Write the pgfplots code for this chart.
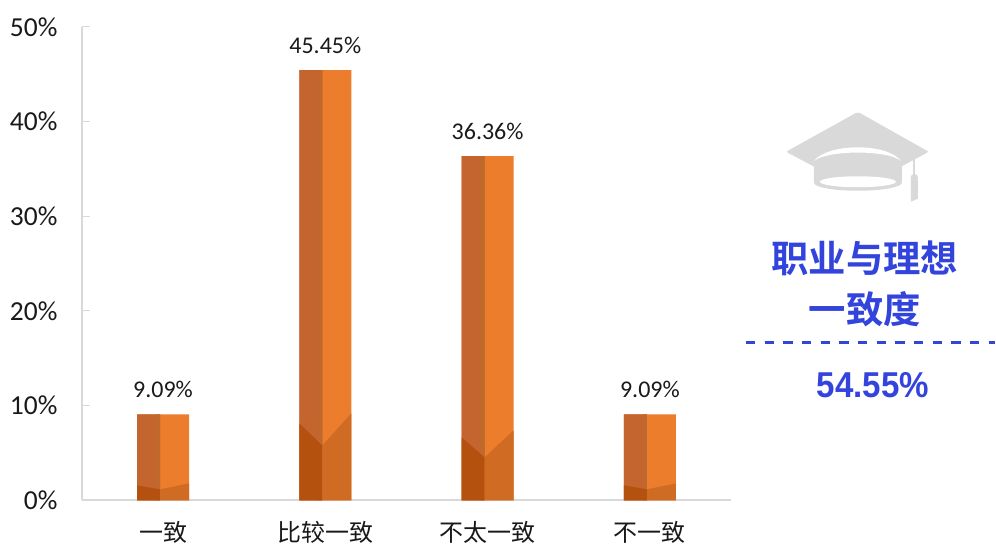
\documentclass[border=0pt]{standalone}
\usepackage{pgfplots}
\pgfplotsset{compat=1.18}
\usepackage{fontspec}
\setmainfont{Carlito}
\newfontfamily\cjk{Noto Sans CJK SC}
\newfontfamily\cjkb{Noto Sans CJK SC Bold}
\newfontfamily\numb{Liberation Sans}
\definecolor{faceR}{HTML}{EB7D2D}
\definecolor{faceL}{HTML}{C4642F}
\definecolor{seamD}{HTML}{BF6A2C}
\definecolor{botL}{HTML}{B5510F}
\definecolor{botR}{HTML}{CF6B22}
\definecolor{axisg}{HTML}{D9D9D9}
\definecolor{txtb}{HTML}{3344DC}
\definecolor{hat}{HTML}{D9D9D9}
\begin{document}
\begin{tikzpicture}[x=1pt,y=1pt]
\path (0,0) rectangle (996,543);
\begin{axis}[
  at={(82pt,42pt)}, anchor=south west,
  scale only axis, width=650pt, height=474pt,
  xmin=-0.5, xmax=3.5, ymin=0, ymax=50,
  axis x line=bottom, axis y line=left,
  axis line style={axisg,line width=2pt,-},
  xtick={0,1,2,3},
  xticklabels={一致,比较一致,不太一致,不一致},
  x tick label style={font=\fontsize{24}{28}\selectfont\cjk, anchor=center, yshift=-32pt, text=black!90},
  major x tick style={draw=none},
  ytick={0,10,20,30,40,50},
  yticklabel={\pgfmathprintnumber{\tick}\%},
  /pgf/number format/assume math mode=true,
  y tick label style={font=\fontsize{27.5}{30}\selectfont, anchor=east, xshift=-21pt, text=black!90},
  tick align=inside,
  major tick length=8pt,
  y tick style={axisg,line width=1pt},
  clip=false,
]
% main bars
\addplot[ybar, bar width=52pt, bar shift=0pt, fill=faceR, draw=none,
  nodes near coords={\pgfmathprintnumber[fixed,fixed zerofill,precision=2]{\pgfplotspointmeta}\%},
  every node near coord/.style={font=\fontsize{24}{28}\selectfont, anchor=center, yshift=25pt, text=black!90}]
  coordinates {(0,9.09) (1,45.45) (2,36.36) (3,9.09)};
% left faces
\addplot[ybar, bar width=23pt, bar shift=-14.5pt, fill=faceL, draw=none]
  coordinates {(0,9.09) (1,45.45) (2,36.36) (3,9.09)};
\addplot[ybar, bar width=4pt, bar shift=-5pt, fill=seamD, draw=none]
  coordinates {(0,9.09) (1,45.45) (2,36.36) (3,9.09)};
% bottom facets, bar 0
\addplot[fill=botL, draw=none] coordinates {(-0.16,0) (-0.16,1.58) (-0.0185,1.16) (-0.0185,0)} --cycle;
\addplot[fill=botR, draw=none] coordinates {(-0.0185,0) (-0.0185,1.16) (0.16,1.79) (0.16,0)} --cycle;
% bar 1
\addplot[fill=botL, draw=none] coordinates {(0.84,0) (0.84,8.12) (0.9815,5.8) (0.9815,0)} --cycle;
\addplot[fill=botR, draw=none] coordinates {(0.9815,0) (0.9815,5.8) (1.16,9.18) (1.16,0)} --cycle;
% bar 2
\addplot[fill=botL, draw=none] coordinates {(1.84,0) (1.84,6.65) (1.9815,4.54) (1.9815,0)} --cycle;
\addplot[fill=botR, draw=none] coordinates {(1.9815,0) (1.9815,4.54) (2.16,7.38) (2.16,0)} --cycle;
% bar 3
\addplot[fill=botL, draw=none] coordinates {(2.84,0) (2.84,1.58) (2.9815,1.16) (2.9815,0)} --cycle;
\addplot[fill=botR, draw=none] coordinates {(2.9815,0) (2.9815,1.16) (3.16,1.79) (3.16,0)} --cycle;
\end{axis}
% graduation cap icon (y measured from top)
\begin{scope}[yscale=-1,yshift=-543pt]
\fill[hat, rounded corners=2pt] (859,112) -- (930,152) -- (859,190) -- (787,152) -- cycle;
\fill[hat] (815,160) -- (903,160) -- (903,183) arc[start angle=0,end angle=180,x radius=44,y radius=8] -- cycle;
\fill[white] (815,161) .. controls (830,143) and (888,143) .. (902,161) .. controls (888,150) and (830,150) .. (815,161) -- cycle;
\fill[white] (859,182) ellipse[x radius=38,y radius=5.5];
\draw[hat,line width=1.4pt] (915,158) -- (915,178);
\fill[hat] (915.5,178) circle[radius=3.8];
\fill[hat] (912,180) -- (919,180) -- (919,199) -- (912,202) -- cycle;
\draw[txtb,line width=2.6pt,dash pattern=on 9.3pt off 9.4pt] (747,343) -- (996,343);
\node[text=txtb,font=\fontsize{37.4}{40}\selectfont\cjkb,anchor=center] at (866,259) {职业与理想};
\node[text=txtb,font=\fontsize{37.4}{40}\selectfont\cjkb,anchor=center] at (866,310) {一致度};
\node[text=txtb,font=\fontsize{36}{40}\selectfont\numb\bfseries,anchor=center] at (874,386) {\scalebox{.92}[1]{54.55\%}};
\end{scope}
\end{tikzpicture}
\end{document}
